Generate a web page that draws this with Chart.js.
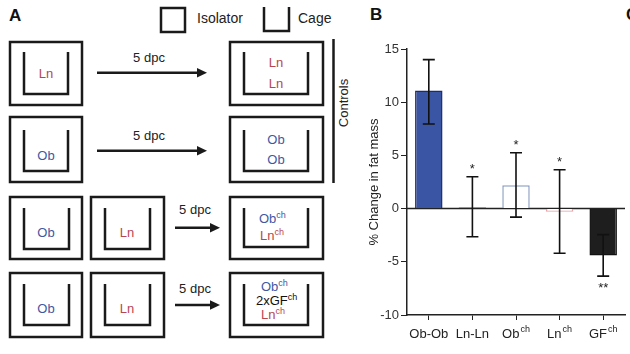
<!DOCTYPE html>
<html>
<head>
<meta charset="utf-8">
<script src="https://cdn.jsdelivr.net/npm/chart.js@4.4.0/dist/chart.umd.min.js"></script>
<style>
  html, body { margin: 0; padding: 0; background: #fff; }
  #wrap { position: relative; width: 630px; height: 354px; overflow: hidden; font-family: "Liberation Sans", Arial, sans-serif; }
  #panelA { position: absolute; left: 0; top: 0; }
  #chartBox { position: absolute; left: 360px; top: 0; width: 270px; height: 354px; }
  .plabel { position: absolute; font-weight: bold; font-size: 17px; color: #111; }
</style>
</head>
<body>
<div id="wrap">
  <svg id="panelA" width="360" height="354" font-family="Liberation Sans, Arial, sans-serif" font-size="13">
    <g fill="none" stroke="#1a1a1a" stroke-width="2.5">
      <!-- legend -->
      <rect x="161" y="8" width="24" height="24"/>
      <polyline points="264,7 264,31 289,31 289,7"/>
      <!-- row 1 -->
      <rect x="10" y="42" width="72" height="63"/>
      <polyline points="24,52 24,94 68,94 68,52"/>
      <rect x="230" y="42" width="93" height="63"/>
      <polyline points="244,52 244,94 308,94 308,52"/>
      <!-- row 2 -->
      <rect x="10" y="117" width="72" height="65"/>
      <polyline points="24,130 24,171 68,171 68,130"/>
      <rect x="230" y="117" width="93" height="65"/>
      <polyline points="244,130 244,171 308,171 308,130"/>
      <!-- row 3 -->
      <rect x="10" y="197" width="72" height="62"/>
      <polyline points="24,208 24,249 69,249 69,208"/>
      <rect x="91" y="197" width="73" height="62"/>
      <polyline points="105,208 105,249 150,249 150,208"/>
      <rect x="230" y="197" width="93" height="62"/>
      <polyline points="244,208 244,247 308,247 308,208"/>
      <!-- row 4 -->
      <rect x="10" y="273" width="72" height="64"/>
      <polyline points="24,284 24,325 69,325 69,284"/>
      <rect x="91" y="273" width="73" height="64"/>
      <polyline points="105,284 105,325 150,325 150,284"/>
      <rect x="230" y="273" width="93" height="64"/>
      <polyline points="244,284 244,325 308,325 308,284"/>
      <!-- arrows -->
      <line x1="97" y1="72.7" x2="200" y2="72.7"/>
      <line x1="97" y1="150.7" x2="200" y2="150.7"/>
      <line x1="175" y1="227.7" x2="213" y2="227.7"/>
      <line x1="175" y1="305" x2="213" y2="305"/>
      <!-- controls bracket -->
      <line x1="333.5" y1="39" x2="333.5" y2="183"/>
    </g>
    <g fill="#1a1a1a">
      <polygon points="207,72.7 197,68 197,77.4"/>
      <polygon points="207,150.7 197,146 197,155.4"/>
      <polygon points="220,227.7 210,223 210,232.4"/>
      <polygon points="220,305 210,300.3 210,309.7"/>
    </g>
    <text x="9" y="21" font-size="17" font-weight="bold" fill="#111">A</text>
    <text x="197" y="23" font-size="14" fill="#222">Isolator</text>
    <text x="298" y="23" font-size="14" fill="#222">Cage</text>
    <g text-anchor="middle" fill="#222">
      <text x="149" y="62">5 dpc</text>
      <text x="149" y="140">5 dpc</text>
      <text x="195" y="214">5 dpc</text>
      <text x="195" y="293">5 dpc</text>
    </g>
    <text transform="translate(348,103) rotate(-90)" text-anchor="middle" fill="#222">Controls</text>
    <g text-anchor="middle" fill="#b84651">
      <text x="46" y="78">Ln</text>
      <text x="276" y="67">Ln</text>
      <text x="276" y="88">Ln</text>
      <text x="127" y="237">Ln</text>
      <text x="127" y="313">Ln</text>
    </g>
    <g text-anchor="middle" fill="#3f58a3">
      <text x="46" y="160">Ob</text>
      <text x="276" y="144">Ob</text>
      <text x="276" y="164">Ob</text>
      <text x="46" y="237">Ob</text>
      <text x="46" y="313">Ob</text>
    </g>
    <text x="259" y="223" fill="#3f58a3">Ob<tspan font-size="9" dy="-5">ch</tspan></text>
    <text x="260" y="240" fill="#b84651">Ln<tspan font-size="9" dy="-5">ch</tspan></text>
    <text x="261" y="291" fill="#3f58a3">Ob<tspan font-size="9" dy="-5">ch</tspan></text>
    <text x="256" y="305" fill="#111">2xGF<tspan font-size="9" dy="-5">ch</tspan></text>
    <text x="261" y="319" fill="#b84651">Ln<tspan font-size="9" dy="-5">ch</tspan></text>
  </svg>
  <div class="plabel" style="left:370px; top:5px;">B</div>
  <div class="plabel" style="left:626px; top:5px;">C</div>
  <div id="chartBox"><canvas id="bars" width="270" height="354"></canvas></div>
</div>
<script>
var groups = ['Ob-Ob', 'Ln-Ln', 'Ob', 'Ln', 'GF'];
var groupSup = ['', '', 'ch', 'ch', 'ch'];
var fatChange = [11.1, 0.12, 2.2, -0.3, -4.4];
var errHigh = [14.0, 3.0, 5.25, 3.65, -2.45];
var errLow = [7.95, -2.65, -0.8, -4.2, -6.35];
var stars = ['', '*', '*', '*', '**'];
var yTicks = [-10, -5, 0, 5, 10, 15];

var fills = ['#3b55a5', '#ffffff', '#ffffff', '#ffffff', '#1e1e1e'];
var edges = ['#1d2b66', '#d2474c', '#8da0c4', '#e8a4a9', '#111111'];

// zero line, error bars, stars and the category labels (with superscripts)
var extras = {
    id: 'extras',
    beforeDatasetsDraw: function(chart) {
        var c = chart.ctx, a = chart.chartArea, y = chart.scales.y;
        var y0 = y.getPixelForValue(0);
        c.save();
        c.strokeStyle = '#222';
        c.lineWidth = 1.5;
        c.beginPath();
        c.moveTo(a.left, y0);
        c.lineTo(a.right, y0);
        c.stroke();
        c.restore();
    },
    afterDatasetsDraw: function(chart) {
        var c = chart.ctx, x = chart.scales.x, y = chart.scales.y;
        c.save();
        c.strokeStyle = '#111';
        c.fillStyle = '#222';
        c.lineWidth = 1.6;
        for (var i = 0; i < groups.length; i++) {
            var px = x.getPixelForValue(i);
            var hi = y.getPixelForValue(errHigh[i]);
            var lo = y.getPixelForValue(errLow[i]);
            c.beginPath();
            c.moveTo(px, hi); c.lineTo(px, lo);
            c.moveTo(px - 6, hi); c.lineTo(px + 6, hi);
            c.moveTo(px - 6, lo); c.lineTo(px + 6, lo);
            c.stroke();
            if (stars[i]) {
                c.font = '13px "Liberation Sans", Arial, sans-serif';
                c.textAlign = 'center';
                c.textBaseline = 'middle';
                if (fatChange[i] < -2) {
                    c.fillText(stars[i], px, lo + 12);
                } else {
                    c.fillText(stars[i], px, hi - 7);
                }
            }
        }
        // category labels
        c.fillStyle = '#222';
        c.textBaseline = 'alphabetic';
        for (var j = 0; j < groups.length; j++) {
            var cx = x.getPixelForValue(j);
            c.font = '13px "Liberation Sans", Arial, sans-serif';
            var w1 = c.measureText(groups[j]).width;
            var w2 = 0;
            if (groupSup[j]) {
                c.font = '9px "Liberation Sans", Arial, sans-serif';
                w2 = c.measureText(groupSup[j]).width + 1;
            }
            var sx = cx - (w1 + w2) / 2;
            c.font = '13px "Liberation Sans", Arial, sans-serif';
            c.textAlign = 'left';
            c.fillText(groups[j], sx, 338);
            if (groupSup[j]) {
                c.font = '9px "Liberation Sans", Arial, sans-serif';
                c.fillText(groupSup[j], sx + w1 + 1, 332);
            }
        }
        c.restore();
    }
};

new Chart(document.getElementById('bars').getContext('2d'), {
    type: 'bar',
    data: {
        labels: groups,
        datasets: [{
            data: fatChange,
            backgroundColor: fills,
            borderColor: edges,
            borderWidth: function(ctx) { return ctx.dataIndex === 1 ? 1 : 1.5; },
            borderSkipped: function(ctx) { return ctx.dataIndex === 1 ? false : 'start'; },
            categoryPercentage: 1,
            barPercentage: 0.63
        }]
    },
    options: {
        responsive: false,
        animation: false,
        events: [],
        layout: { padding: { top: 49, right: 5, left: 0, bottom: 0 } },
        plugins: { legend: { display: false }, tooltip: { enabled: false } },
        scales: {
            x: {
                offset: true,
                grid: { display: true, drawOnChartArea: false, drawTicks: true, tickLength: 5, color: '#222', offset: false },
                border: { display: true, color: '#222', width: 1.5 },
                ticks: { display: false },
                afterFit: function(s) { s.height = 39; }
            },
            y: {
                min: -10,
                max: 15,
                afterBuildTicks: function(s) { s.ticks = yTicks.map(function(v) { return { value: v }; }); },
                grid: { display: true, drawOnChartArea: false, drawTicks: true, tickLength: 6, color: '#222' },
                border: { display: true, color: '#222', width: 1.5 },
                ticks: { color: '#333', padding: 2, font: { size: 13, family: '"Liberation Sans", Arial, sans-serif' } },
                title: { display: true, text: '% Change in fat mass', color: '#222', padding: { top: 7, bottom: 0 },
                         font: { size: 13, family: '"Liberation Sans", Arial, sans-serif' } },
                afterFit: function(s) { s.width = 47; }
            }
        }
    },
    plugins: [extras]
});
</script>
</body>
</html>
